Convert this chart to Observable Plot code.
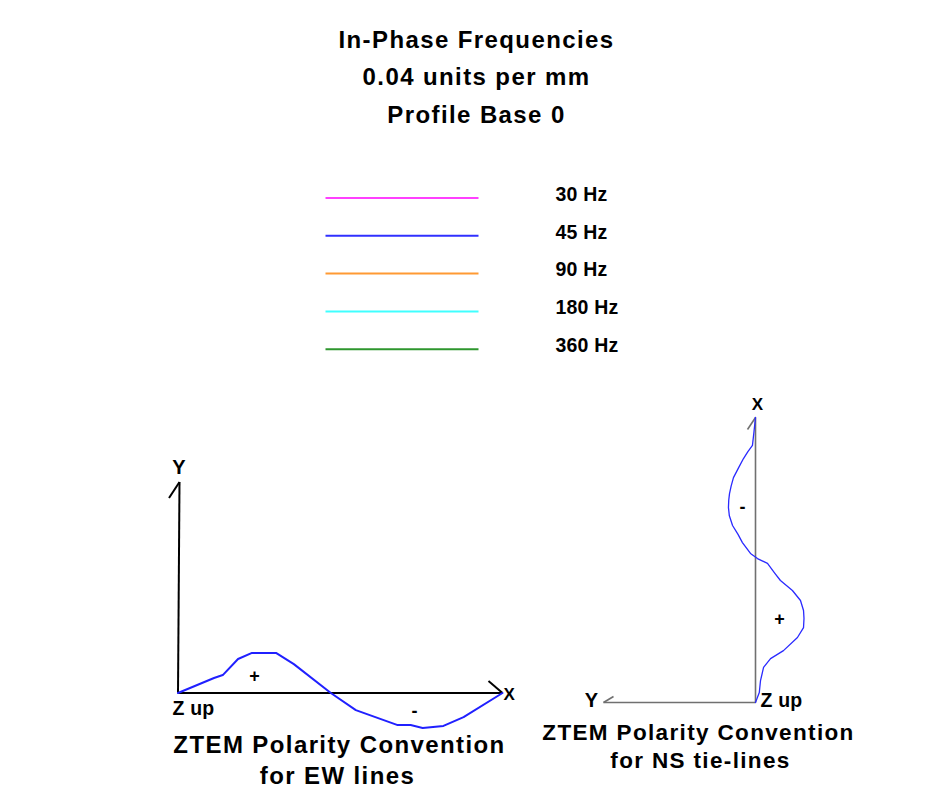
<!DOCTYPE html>
<html>
<head>
<meta charset="utf-8">
<script src="https://cdn.jsdelivr.net/npm/d3@7"></script>
<script src="https://cdn.jsdelivr.net/npm/@observablehq/plot@0.6"></script>
<style>
  html, body { margin: 0; padding: 0; background: #fff; }
  #chart svg { display: block; }
</style>
</head>
<body>
<div id="chart"></div>
<script>
// ---------- data ----------
const titleLines = ["In-Phase Frequencies", "0.04 units per mm", "Profile Base 0"];
const frequencies = ["30 Hz", "45 Hz", "90 Hz", "180 Hz", "360 Hz"];
const frequencyColors = ["#ff40ff", "#3030ff", "#ff9a33", "#40ffff", "#2e962e"];

// EW line profile: distance along X axis (0-100) and response (+ up)
const ewDistance = [0, 11.1, 13.8, 18.5, 22.8, 30.2, 35.7, 47.1, 54.8, 67.7, 71.7, 75.4, 81.8, 88.0, 100];
const ewResponse = [0, 7.1, 8.5, 16.1, 19.0, 19.0, 13.7, 0, -8.1, -15.2, -15.2, -16.6, -15.6, -11.4, 0];

// NS tie-line profile: distance along X axis (0-100, upward) and response (+ towards -Y)
const nsDistance = [0, 3.5, 7.7, 12.3, 15.4, 18.2, 22.8, 26.3, 29.5, 32.3, 35.8, 39.3, 42.8, 45.5, 48.8, 50.5, 52.3, 56.1, 59.0, 62.1, 65.5, 68.4, 71.0, 73.3, 76.0, 78.9, 82.5, 85.6, 88.0, 90.2, 95.0, 100];
const nsResponse = [0, 2.5, 3.3, 5.3, 9.9, 18.4, 27.6, 31.6, 31.9, 31.6, 29.6, 24.3, 16.4, 12.5, 7.9, 1.3, -3.3, -8.6, -11.5, -15.1, -17.2, -17.8, -17.6, -17.1, -16.0, -14.5, -11.0, -7.9, -5.0, -2.0, -1.0, 0];

const ewLabels = {axisX: "X", axisY: "Y", origin: "Z up", plus: "+", minus: "-",
  caption: ["ZTEM Polarity Convention", "for EW lines"]};
const nsLabels = {axisX: "X", axisY: "Y", origin: "Z up", plus: "+", minus: "-",
  caption: ["ZTEM Polarity Convention", "for NS tie-lines"]};

// ---------- layout (page pixel frame used as the plot's scale domain) ----------
const W = 931, H = 807;
const FONT = "Liberation Sans, Arial, Helvetica, sans-serif";

// EW diagram frame
const ew = {ox: 177.5, oy: 692.5, sx: 3.245, sy: 2.11};
const ewPt = (d, r) => [ew.ox + d * ew.sx, ew.oy - r * ew.sy];
// NS diagram frame
const ns = {ox: 755, oy: 702, sAlong: 2.85, sResp: 1.52};
const nsPt = (d, r) => [ns.ox + r * ns.sResp, ns.oy - d * ns.sAlong];

const ewCurve = ewDistance.map((d, i) => { const [x, y] = ewPt(d, ewResponse[i]); return {x, y}; });
const nsCurve = nsDistance.map((d, i) => { const [x, y] = nsPt(d, nsResponse[i]); return {x, y}; });

// axes of the EW diagram (X along, Y up) with arrow ticks
const ewAxes = [
  {a: ewPt(0, 0), b: ewPt(100, 0)},
  {a: ewPt(0, 0), b: [ew.ox + 1.5, ew.oy - 211]},
  {a: [ew.ox - 9, ew.oy - 195], b: [ew.ox + 1.5, ew.oy - 211]},
  {a: [ew.ox + 100 * ew.sx - 14, ew.oy - 12], b: ewPt(100, 0)}
].map(s => ({x1: s.a[0], y1: s.a[1], x2: s.b[0], y2: s.b[1]}));

const nsAxes = [
  {a: nsPt(0, 0), b: nsPt(100, 0)},
  {a: nsPt(0, 0), b: [ns.ox - 152, ns.oy]},
  {a: [ns.ox - 8, ns.oy - 100 * ns.sAlong + 12], b: nsPt(100, 0)},
  {a: [ns.ox - 152, ns.oy], b: [ns.ox - 142, ns.oy - 6]}
].map(s => ({x1: s.a[0], y1: s.a[1], x2: s.b[0], y2: s.b[1]}));

const legendRows = frequencies.map((f, i) => ({
  label: f, color: frequencyColors[i], y: 197.5 + i * 37.8, x1: 325, x2: 478, tx: 555
}));

const titleRows = titleLines.map((t, i) => ({text: t, x: 476, y: [40, 77, 114.5][i]}));

const textMarks = [
  // main title
  Plot.text(titleRows, {x: "x", y: "y", text: "text", fontSize: 24, fontWeight: "bold", fontFamily: FONT, fill: "#000"}),
  // legend labels
  Plot.text(legendRows, {x: "tx", y: d => d.y - 3.5, text: "label", textAnchor: "start", fontSize: 19.5, fontWeight: "bold", fontFamily: FONT, fill: "#000"}),
  // EW diagram labels
  Plot.text([{t: ewLabels.axisY, x: ew.ox + 1, y: 467}], {x: "x", y: "y", text: "t", fontSize: 20, fontWeight: "bold", fontFamily: FONT}),
  Plot.text([{t: ewLabels.axisX, x: 503, y: 694}], {x: "x", y: "y", text: "t", textAnchor: "start", fontSize: 17, fontWeight: "bold", fontFamily: FONT}),
  Plot.text([{t: ewLabels.origin, x: 172, y: 708}], {x: "x", y: "y", text: "t", textAnchor: "start", fontSize: 19.5, fontWeight: "bold", fontFamily: FONT}),
  Plot.text([{t: ewLabels.plus, x: 254, y: 676}, {t: ewLabels.minus, x: 414, y: 711}], {x: "x", y: "y", text: "t", fontSize: 18, fontWeight: "bold", fontFamily: FONT}),
  Plot.text([{t: ewLabels.caption[0], x: 339, y: 745}, {t: ewLabels.caption[1], x: 337, y: 776}], {x: "x", y: "y", text: "t", fontSize: 24, fontWeight: "bold", fontFamily: FONT}),
  // NS diagram labels
  Plot.text([{t: nsLabels.axisX, x: 757, y: 404.5}], {x: "x", y: "y", text: "t", fontSize: 17, fontWeight: "bold", fontFamily: FONT}),
  Plot.text([{t: nsLabels.axisY, x: 591, y: 700}], {x: "x", y: "y", text: "t", fontSize: 20, fontWeight: "bold", fontFamily: FONT}),
  Plot.text([{t: nsLabels.origin, x: 760, y: 700}], {x: "x", y: "y", text: "t", textAnchor: "start", fontSize: 19.5, fontWeight: "bold", fontFamily: FONT}),
  Plot.text([{t: nsLabels.minus, x: 742, y: 507}, {t: nsLabels.plus, x: 779, y: 619}], {x: "x", y: "y", text: "t", fontSize: 18, fontWeight: "bold", fontFamily: FONT}),
  Plot.text([{t: nsLabels.caption[0], x: 698, y: 732}, {t: nsLabels.caption[1], x: 700, y: 760}], {x: "x", y: "y", text: "t", fontSize: 22.5, fontWeight: "bold", fontFamily: FONT})
];

const chart = Plot.plot({
  width: W,
  height: H,
  margin: 0,
  style: {background: "#fff", fontFamily: FONT},
  x: {type: "linear", domain: [0, W], range: [0, W], axis: null},
  y: {type: "linear", domain: [0, H], range: [0, H], axis: null},
  marks: [
    // legend swatch lines
    Plot.link(legendRows, {x1: "x1", x2: "x2", y1: "y", y2: "y", stroke: "color", strokeWidth: 2}),
    // EW diagram
    Plot.link(ewAxes, {x1: "x1", y1: "y1", x2: "x2", y2: "y2", stroke: "#000", strokeWidth: 2}),
    Plot.line(ewCurve, {x: "x", y: "y", stroke: "#2020ff", strokeWidth: 2, curve: "linear"}),
    // NS diagram
    Plot.link(nsAxes, {x1: "x1", y1: "y1", x2: "x2", y2: "y2", stroke: "#707070", strokeWidth: 1.6}),
    Plot.line(nsCurve, {x: "x", y: "y", stroke: "#2a2aff", strokeWidth: 1.3, curve: "linear"}),
    ...textMarks
  ]
});

// letter spacing of the bold labels, by font size
const spacing = {"24": 1.4, "22.5": 1.35, "20": 0, "19.5": 0.2, "18": 0, "17": 0};
chart.querySelectorAll('g[aria-label="text"]').forEach(g => {
  const fs = g.getAttribute("font-size");
  const s = spacing[fs];
  if (s) g.setAttribute("letter-spacing", s);
});

document.getElementById("chart").appendChild(chart);
</script>
</body>
</html>
